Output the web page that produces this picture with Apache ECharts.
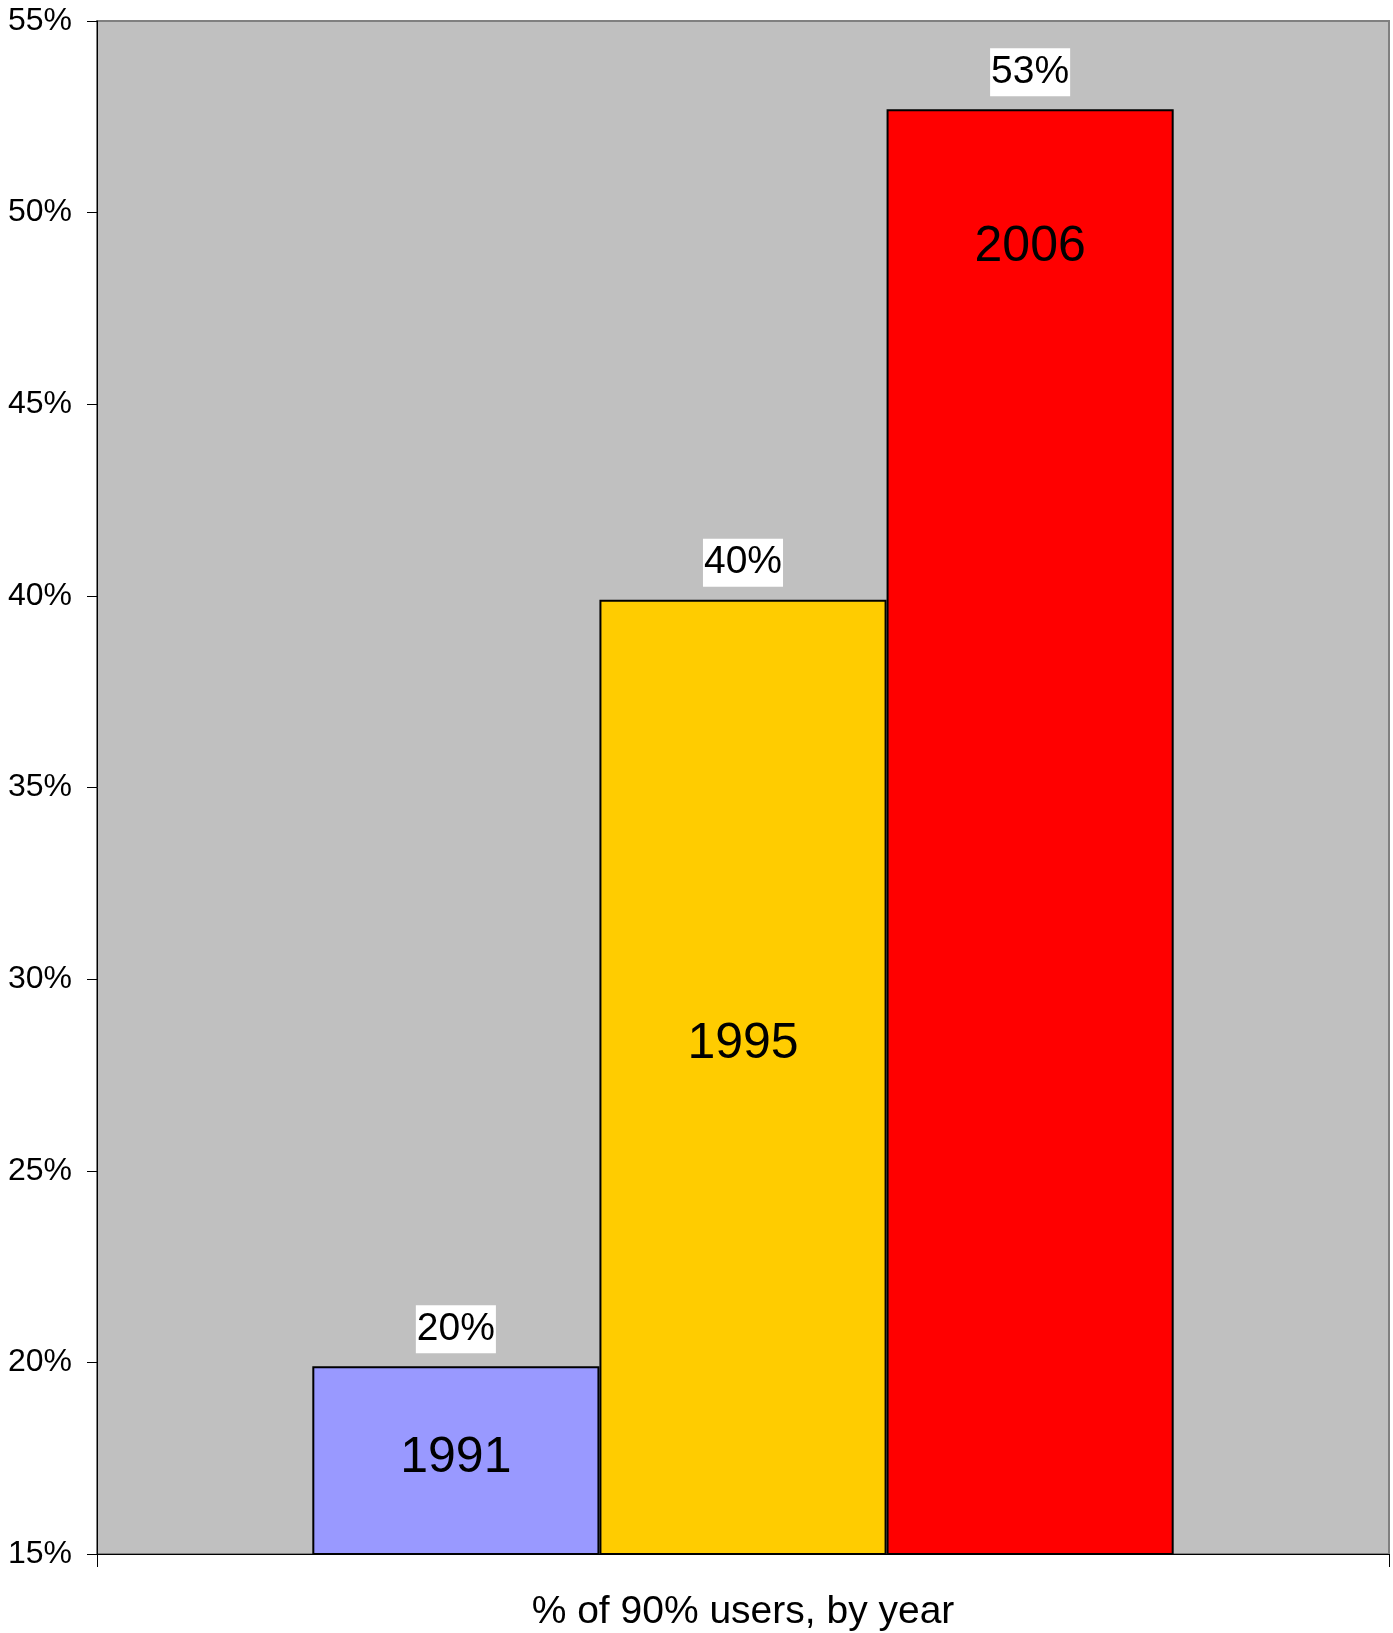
<!DOCTYPE html>
<html>
<head>
<meta charset="utf-8">
<script src="https://cdn.jsdelivr.net/npm/echarts@6/dist/echarts.min.js"></script>
<style>
  html, body { margin: 0; padding: 0; background: #fff; }
  #main { width: 1393px; height: 1633px; }
</style>
</head>
<body>
<div id="main"></div>
<script>
// data
var category = ['% of 90% users, by year'];
var years = ['1991', '1995', '2006'];
var shares = [19.9, 39.9, 52.7];          // percent
var yearLabelAt = [17.5, 28.3, 49.1];     // where the year text sits (percent)
var colors = ['#9999ff', '#ffcc00', '#ff0000'];
var yTicks = { min: 15, max: 55, step: 5 };

var font = 'Liberation Sans, Arial, sans-serif';

var myChart = echarts.init(document.getElementById('main'));

var series = years.map(function (yr, i) {
    return {
        name: yr,
        type: 'bar',
        barGap: '0%',
        barCategoryGap: '33.33%',
        data: [shares[i]],
        itemStyle: { color: colors[i], borderColor: '#000', borderWidth: 2 },
        label: {
            show: true,
            position: 'top',
            distance: 13,
            color: '#000',
            fontFamily: font,
            fontSize: 39,
            lineHeight: 46,
            backgroundColor: '#fff',
            padding: [1, 1, 1, 1],
            formatter: function (p) { return Math.round(p.value) + '%'; }
        },
        markPoint: {
            symbol: 'circle',
            symbolSize: 0,
            silent: true,
            label: {
                show: true,
                position: 'inside',
                color: '#000',
                fontFamily: font,
                fontSize: 50,
                formatter: yr
            },
            data: [{ coord: [0, yearLabelAt[i]] }]
        }
    };
});

myChart.setOption({
    animation: false,
    backgroundColor: '#fff',
    grid: {
        left: 97, top: 21, right: 4, bottom: 79,
        show: true,
        backgroundColor: '#c0c0c0',
        borderColor: '#808080',
        borderWidth: 2
    },
    xAxis: {
        type: 'category',
        data: category,
        axisLine: { lineStyle: { color: '#000', width: 1 } },
        axisTick: { show: true, length: 13, lineStyle: { color: '#000' } },
        axisLabel: {
            color: '#000',
            fontFamily: font,
            fontSize: 39,
            margin: 39
        }
    },
    yAxis: {
        type: 'value',
        min: yTicks.min,
        max: yTicks.max,
        interval: yTicks.step,
        splitLine: { show: false },
        axisLine: { show: true, lineStyle: { color: '#000', width: 1 } },
        axisTick: { show: true, length: 10, lineStyle: { color: '#000' } },
        axisLabel: {
            color: '#000',
            fontFamily: font,
            fontSize: 32,
            margin: 25,
            formatter: '{value}%'
        }
    },
    series: series
});
</script>
</body>
</html>
